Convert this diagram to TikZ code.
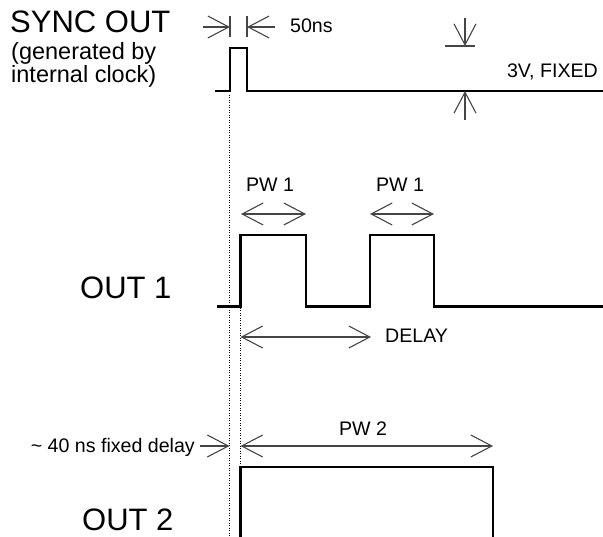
\documentclass[tikz,border=0pt]{standalone}
\usepackage{fontspec}
\setmainfont{Liberation Sans}
\usetikzlibrary{arrows.meta,positioning}
\definecolor{Dim}{HTML}{454545}
\newcommand\tagfont{\fontsize{31}{33}\selectfont}
\newcommand\midfont{\fontsize{23.5}{25}\selectfont}
\newcommand\notefont{\fontsize{19.6}{21}\selectfont}

\begin{document}
\begin{tikzpicture}[x=1pt,y=-1pt,
    >={Straight Barb[length=21pt,width=22pt]},
    wave/.style={line width=2.6pt},
    dimline/.style={Dim,line width=1.1pt},
    guide/.style={line width=1.1pt,dash pattern=on 1pt off 1.5pt},
    txt/.style={inner sep=0pt,font=\notefont}]
  \useasboundingbox (0,0) rectangle (603,537);
  % signal names
  \node[txt,anchor=base west,font=\tagfont] (sync) at (10,33) {SYNC OUT};
  \node[txt,anchor=base west,font=\midfont] (gen) at (11,60) {(generated by};
  \node[txt,anchor=base west,font=\midfont] (clk) at (11,83) {internal clock)};
  \node[txt,anchor=base west,font=\tagfont] (out1) at (80,299) {OUT 1};
  \node[txt,anchor=base west,font=\tagfont] (out2) at (82,530) {OUT 2};
  % waveform corners
  \coordinate (s0) at (215,91);
  \coordinate (srise) at (230,48);
  \coordinate (sfall) at (247,91);
  \coordinate (send) at (603,91);
  \coordinate (a0) at (217,306.5);
  \coordinate (arise1) at (240.5,235);
  \coordinate (afall1) at (306,306.5);
  \coordinate (arise2) at (370,235);
  \coordinate (afall2) at (434,306.5);
  \coordinate (aend) at (603,306.5);
  \coordinate (b0) at (240.5,537);
  \coordinate (bfall) at (493,467);
  \coordinate (bend) at (493,537);
  % waveforms
  \draw[wave] (s0) -| (srise) -| (sfall) -- (send);
  \draw[wave] (a0) -| (arise1) -| (afall1) -| (arise2) -| (afall2) -- (aend);
  \draw[wave] (b0) |- (bfall) -- (bend);
  % timing guides
  \coordinate (g1top) at (229.5,95);
  \coordinate (g1bot) at (229.5,537);
  \coordinate (g2top) at (240.5,308);
  \coordinate (g2bot) at (240.5,537);
  \draw[guide] (g1top) -- (g1bot);
  \draw[guide] (g2top) -- (g2bot);
  % 50ns
  \coordinate (w1) at (203,27);
  \coordinate (w2) at (230,27);
  \coordinate (w3) at (247,27);
  \coordinate (w4) at (275,27);
  \draw[dimline,->] (w1) -- (w2);
  \draw[dimline,->] (w4) -- (w3);
  \draw[dimline] ([yshift=-10pt]w2) -- ([yshift=11pt]w2);
  \draw[dimline] ([yshift=-10pt]w3) -- ([yshift=11pt]w3);
  \node[txt,anchor=base west] (wlbl) at (290,33) {50ns};
  % 3V
  \coordinate (v1) at (465,18);
  \coordinate (v2) at (465,46);
  \coordinate (v3) at (465,91);
  \coordinate (v4) at (465,120);
  \draw[dimline,->] (v1) -- (v2);
  \draw[dimline,->] (v4) -- (v3);
  \draw[dimline] ([xshift=-20pt]v2) -- ([xshift=10pt]v2);
  \node[txt,anchor=base east] (vlbl) at (598,78) {3V, FIXED};
  % PW 1
  \coordinate (p1) at (241,214);
  \coordinate (p2) at (306,214);
  \coordinate (p3) at (370,214);
  \coordinate (p4) at (434,214);
  \draw[dimline,<->] (p1) -- (p2);
  \draw[dimline,<->] (p3) -- (p4);
  \node[txt,anchor=base] (pw1a) at (270,192) {PW 1};
  \node[txt,anchor=base] (pw1b) at (400,192) {PW 1};
  % DELAY
  \coordinate (d1) at (240.5,337);
  \coordinate (d2) at (371,337);
  \draw[dimline,<->] (d1) -- (d2);
  \node[txt,anchor=base west] (dlbl) at (385,343) {DELAY};
  % OUT 2 timing
  \coordinate (f1) at (200,446);
  \coordinate (f2) at (229.5,446);
  \coordinate (q1) at (240.5,446);
  \coordinate (q2) at (493,446);
  \draw[dimline,->] (f1) -- (f2);
  \draw[dimline,<->] (q1) -- (q2);
  \node[txt,anchor=base east] (flbl) at (195,453) {\textasciitilde{} 40 ns fixed delay};
  \node[txt,anchor=base] (pw2) at (363,436) {PW 2};
\end{tikzpicture}
\end{document}
